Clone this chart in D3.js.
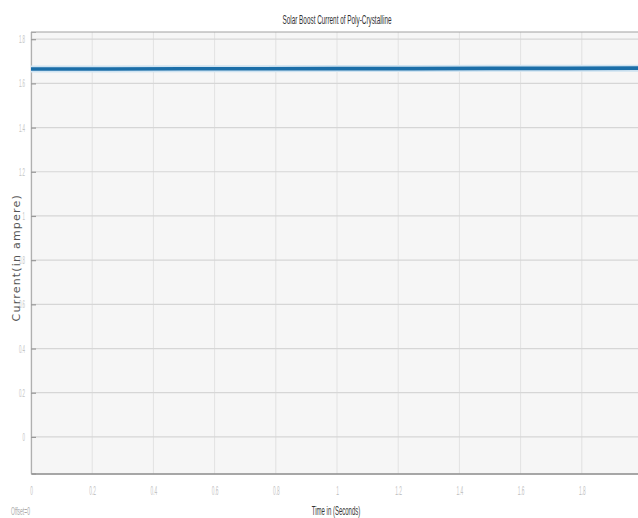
<!DOCTYPE html>
<html>
<head>
<meta charset="utf-8">
<script src="https://d3js.org/d3.v7.min.js"></script>
<style>
  html, body { margin: 0; padding: 0; background: #fff; }
  svg { display: block; }
</style>
</head>
<body>
<div id="chart"></div>
<script>
// ---- data ----
const timeValues = [0, 0.25, 0.5, 0.75, 1.0, 1.25, 1.5, 1.75, 2.0];
const currentValues = [1.665, 1.665, 1.666, 1.666, 1.667, 1.667, 1.668, 1.668, 1.669];
const xTicks = [0, 0.2, 0.4, 0.6, 0.8, 1, 1.2, 1.4, 1.6, 1.8];
const xTickLabels = ["0", "0.2", "0.4", "0.6", "0.8", "1", "1.2", "1.4", "1.6", "1.8"];
const yTicks = [0, 0.2, 0.4, 0.6, 0.8, 1, 1.2, 1.4, 1.6, 1.8];
const yTickLabels = ["0", "0.2", "0.4", "0.6", "0.8", "1", "1.2", "1.4", "1.6", "1.8"];
const titleText = "Solar Boost Current of Poly-Crystalline";
const xLabelText = "Time in (Seconds)";
const yLabelText = "Current(in ampere)";
const offsetText = "Offset=0";

const W = 638, H = 518;
const plot = { left: 31, top: 32, right: 643, bottom: 473.5 };

const svg = d3.select("#chart").append("svg").attr("width", W).attr("height", H);

const x = d3.scaleLinear().domain([0, 2]).range([plot.left, plot.right]);
const y = d3.scaleLinear().domain([-0.1656, 1.8326]).range([plot.bottom, plot.top]);

// background
svg.append("rect").attr("x", plot.left).attr("y", plot.top)
  .attr("width", plot.right - plot.left).attr("height", plot.bottom - plot.top)
  .attr("fill", "#f6f6f6");

// helper for condensed text
function condense(sel, factor) {
  sel.each(function () {
    const len = this.getComputedTextLength();
    d3.select(this).attr("textLength", len * factor).attr("lengthAdjust", "spacingAndGlyphs");
  });
}

// vertical grid
svg.append("g").selectAll("line").data(xTicks).join("line")
  .attr("x1", d => x(d)).attr("x2", d => x(d))
  .attr("y1", plot.top).attr("y2", plot.bottom)
  .attr("stroke", "#e2e2e2").attr("stroke-width", 1);

// horizontal grid
svg.append("g").selectAll("line").data(yTicks).join("line")
  .attr("x1", plot.left).attr("x2", plot.right)
  .attr("y1", d => y(d)).attr("y2", d => y(d))
  .attr("stroke", "#d6d6d6").attr("stroke-width", 1.2);

// y axis with inner ticks
const yAxis = d3.axisLeft(y).tickValues(yTicks).tickSize(-5).tickPadding(6)
  .tickFormat((d, i) => yTickLabels[i]);
const gy = svg.append("g").attr("transform", `translate(${plot.left},0)`).call(yAxis);
gy.select(".domain").attr("stroke", "#b0b0b0").attr("stroke-width", 1.2);
gy.selectAll(".tick line").attr("stroke", "#999").attr("stroke-width", 1.2);
gy.selectAll(".tick text").attr("fill", "#c4c4c4")
  .attr("font-family", "Liberation Sans, Arial, sans-serif").attr("font-size", 11)
  .call(condense, 0.4);

// x axis
const xAxis = d3.axisBottom(x).tickValues(xTicks).tickSize(0).tickPadding(13)
  .tickFormat((d, i) => xTickLabels[i]);
const gx = svg.append("g").attr("transform", `translate(0,${plot.bottom})`).call(xAxis);
gx.select(".domain").attr("stroke", "#8a8a8a").attr("stroke-width", 1.6);
gx.selectAll(".tick text").attr("fill", "#c4c4c4")
  .attr("font-family", "Liberation Sans, Arial, sans-serif").attr("font-size", 12)
  .call(condense, 0.4);

// top border
svg.append("line").attr("x1", plot.left).attr("x2", plot.right)
  .attr("y1", plot.top).attr("y2", plot.top)
  .attr("stroke", "#a0a0a0").attr("stroke-width", 1);

// data line (halo + core)
const line = d3.line().x((d, i) => x(timeValues[i])).y(d => y(d));
svg.append("path").datum(currentValues).attr("d", line)
  .attr("fill", "none").attr("stroke", "#cfe3f1").attr("stroke-width", 7);
svg.append("path").datum(currentValues).attr("d", line)
  .attr("fill", "none").attr("stroke", "#1b6ea8").attr("stroke-width", 3.6);

// title
svg.append("text").attr("x", x(1)).attr("y", 24).attr("text-anchor", "middle")
  .attr("fill", "#333").attr("font-family", "Liberation Sans, Arial, sans-serif")
  .attr("font-size", 13).text(titleText).call(condense, 0.49);

// x label
svg.append("text").attr("x", 336).attr("y", 515).attr("text-anchor", "middle")
  .attr("fill", "#333").attr("font-family", "Liberation Sans, Arial, sans-serif")
  .attr("font-size", 12).text(xLabelText).call(condense, 0.5);

// y label
svg.append("text").attr("transform", `translate(20,${(plot.top + plot.bottom) / 2 + 5}) rotate(-90)`)
  .attr("text-anchor", "middle").attr("fill", "#555")
  .attr("font-family", "DejaVu Sans, Verdana, sans-serif").attr("font-size", 11)
  .attr("letter-spacing", 1.2).text(yLabelText);

// offset label
svg.append("text").attr("x", 11).attr("y", 515)
  .attr("fill", "#aaa").attr("font-family", "Liberation Sans, Arial, sans-serif")
  .attr("font-size", 10).text(offsetText).call(condense, 0.5);
</script>
</body>
</html>
